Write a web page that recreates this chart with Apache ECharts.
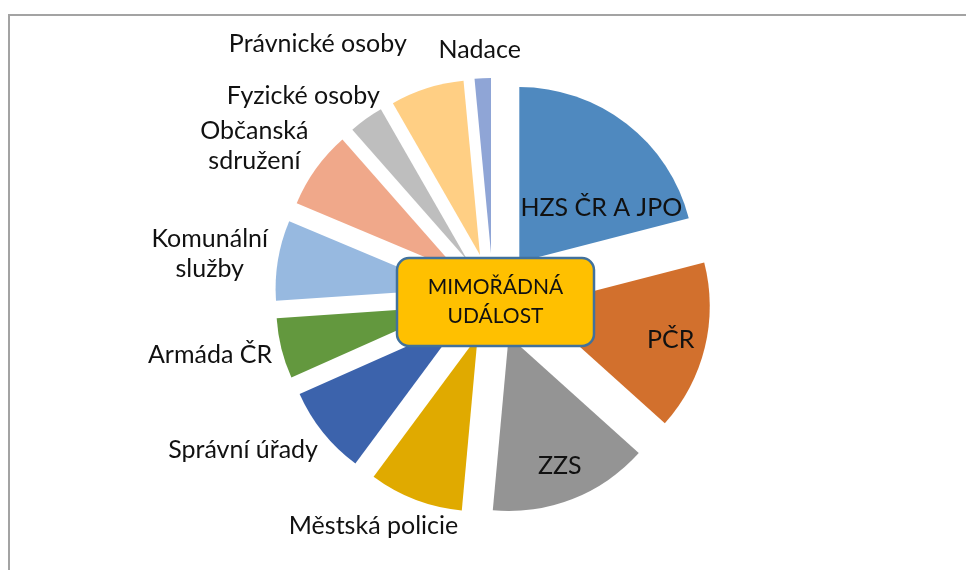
<!DOCTYPE html>
<html>
<head>
<meta charset="utf-8">
<title>Mimořádná událost</title>
<script src="https://cdn.jsdelivr.net/npm/echarts@6/dist/echarts.min.js"></script>
<style>
  html, body { margin: 0; padding: 0; background: #fff; }
  #chart { width: 966px; height: 570px; }
</style>
</head>
<body>
<div id="chart"></div>
<script>
// data, clockwise from 12 o'clock
var categories = ['HZS ČR A JPO', 'PČR', 'ZZS', 'Městská policie', 'Správní úřady', 'Armáda ČR',
  'Komunální\nslužby', 'Občanská\nsdružení', 'Fyzické osoby', 'Právnické osoby', 'Nadace'];
var shares = [21.0, 15.7, 14.8, 8.7, 8.2, 5.6, 7.4, 7.2, 3.2, 6.8, 1.5];
var colors = ['#4F89BF', '#D2702D', '#949494', '#E0AA00', '#3C63AC', '#63983E',
  '#97B9E0', '#F0A88A', '#BEBEBE', '#FFCF84', '#8FA5D6'];
var insideLabels = ['HZS ČR A JPO', 'PČR', 'ZZS'];
var centerText = 'MIMOŘÁDNÁ\nUDÁLOST';

// layout of the exploded pie (px)
var CX = 493, CY = 296, R = 175, EXPLODE = 43;
var FONT = 'Lato', FONT_SIZE = 25, LINE_H = 30, LABEL_GAP = 16, LABEL_MARGIN = 30;

var measureCtx = document.createElement('canvas').getContext('2d');
measureCtx.font = FONT_SIZE + 'px ' + FONT;
function textBox(t) {
  var lines = t.split('\n'), w = 0;
  lines.forEach(function (l) { w = Math.max(w, measureCtx.measureText(l).width); });
  return { w: w, h: lines.length * LINE_H, glyphH: lines.length * FONT_SIZE * 0.7 };
}

var total = shares.reduce(function (a, b) { return a + b; }, 0);
var slices = [];
var acc = 0;
shares.forEach(function (v) {
  var a0 = acc / total * 360;
  acc += v;
  var a1 = acc / total * 360;
  slices.push({ a0: a0, a1: a1, mid: (a0 + a1) / 2 });
});
function dir(deg) {
  var r = deg * Math.PI / 180;
  return [Math.sin(r), -Math.cos(r)];
}
// tip of a slice once it is pulled out by the selected offset
function apex(i) {
  var d = dir(slices[i].mid);
  return [CX + EXPLODE * d[0], CY + EXPLODE * d[1]];
}

// "best fit" for labels drawn inside their slice
function fits(i, x, y, w, h) {
  var p = apex(i), s = slices[i];
  var corners = [[x - w / 2, y - h / 2], [x + w / 2, y - h / 2], [x - w / 2, y + h / 2], [x + w / 2, y + h / 2]];
  return corners.every(function (c) {
    var dx = c[0] - p[0], dy = c[1] - p[1];
    if (Math.sqrt(dx * dx + dy * dy) > R) return false;
    var ang = (Math.atan2(dx, -dy) * 180 / Math.PI + 360) % 360;
    return ang >= s.a0 + 0.5 && ang <= s.a1 - 0.5;
  });
}
function insidePos(i, b) {
  var s = slices[i], half = (s.a1 - s.a0) / 2, p = apex(i);
  for (var k = 0.8; k >= 0.3; k -= 0.01) {
    for (var d = 0; d <= half; d += 1) {
      for (var sg = 1; sg >= -1; sg -= 2) {
        var u = dir(s.mid + sg * d);
        var x = p[0] + k * R * u[0], y = p[1] + k * R * u[1];
        if (fits(i, x, y, b.w, b.glyphH)) return [x, y];
      }
    }
  }
  var m = dir(s.mid);
  return [p[0] + 0.5 * R * m[0], p[1] + 0.5 * R * m[1]];
}
function outsidePos(i, b) {
  var u = dir(slices[i].mid), p = apex(i);
  var px = p[0] + (R + LABEL_GAP) * u[0], py = p[1] + (R + LABEL_GAP) * u[1];
  var fx = Math.max(-0.9, Math.min(0.9, u[0] * 1.2));
  return [px + fx * b.w / 2, py + u[1] * 0.8 * b.h / 2];
}

// label positions, outside ones pushed away when they collide
var labelPos = [];
var placed = [];
var order = categories.map(function (c, i) { return i; }).sort(function (a, b) {
  return Math.abs(dir(slices[a].mid)[0]) - Math.abs(dir(slices[b].mid)[0]);
});
order.forEach(function (i) {
  var b = textBox(categories[i]);
  if (insideLabels.indexOf(categories[i]) >= 0) {
    labelPos[i] = insidePos(i, b);
    return;
  }
  var pos = outsidePos(i, b);
  var u = dir(slices[i].mid);
  var step = [u[0] < 0 ? -2 : 2, u[1] < 0 ? -0.5 : 0.5];
  var hit = true;
  while (hit) {
    hit = placed.some(function (r) {
      return Math.abs(pos[0] - r.x) < (b.w + r.w) / 2 + LABEL_MARGIN && Math.abs(pos[1] - r.y) < (b.h + r.h) / 2;
    });
    if (hit) { pos[0] += step[0]; pos[1] += step[1]; }
  }
  placed.push({ x: pos[0], y: pos[1], w: b.w, h: b.h });
  labelPos[i] = pos;
});

var pieData = categories.map(function (name, i) {
  return {
    name: name,
    value: shares[i],
    selected: true,
    itemStyle: { color: colors[i] }
  };
});

var labelTexts = categories.map(function (name, i) {
  return {
    type: 'text',
    z: 50,
    x: labelPos[i][0],
    y: labelPos[i][1],
    style: {
      text: name,
      fontFamily: FONT,
      fontSize: FONT_SIZE,
      lineHeight: LINE_H,
      fill: '#111111',
      align: 'center',
      verticalAlign: 'middle'
    }
  };
});

var myChart = echarts.init(document.getElementById('chart'), null, { renderer: 'canvas' });
var option = {
  animation: false,
  backgroundColor: '#ffffff',
  series: [{
    type: 'pie',
    center: [CX, CY],
    radius: R,
    startAngle: 90,
    clockwise: true,
    selectedMode: 'multiple',
    selectedOffset: EXPLODE,
    emphasis: { disabled: true },
    itemStyle: { borderWidth: 0 },
    label: { show: false },
    labelLine: { show: false },
    data: pieData
  }],
  graphic: [
    {
      type: 'rect',
      z: 100,
      shape: { x: 9, y: 15, width: 1000, height: 600 },
      style: { fill: 'none', stroke: '#A3A3A3', lineWidth: 2 }
    },
    {
      type: 'rect',
      z: 100,
      shape: { x: 397, y: 258, width: 197, height: 88, r: 12 },
      style: { fill: '#FFC000', stroke: '#41719C', lineWidth: 2.5 }
    },
    {
      type: 'text',
      z: 101,
      x: 495.5,
      y: 302,
      style: {
        text: centerText,
        fontFamily: FONT,
        fontSize: 21,
        lineHeight: 29,
        fill: '#111111',
        align: 'center',
        verticalAlign: 'middle'
      }
    }
  ].concat(labelTexts)
};
myChart.setOption(option);
</script>
</body>
</html>
